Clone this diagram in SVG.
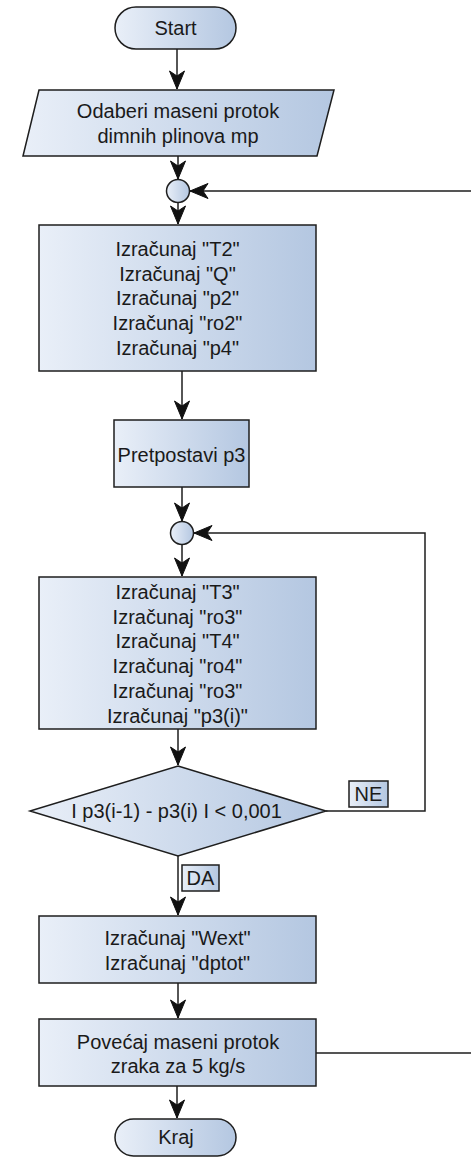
<svg xmlns="http://www.w3.org/2000/svg" width="471" height="1157" viewBox="0 0 471 1157">
<defs>
<linearGradient id="g" x1="0" y1="0" x2="1" y2="0">
<stop offset="0" stop-color="#e9eff8"/>
<stop offset="1" stop-color="#b4c7e1"/>
</linearGradient>
<marker id="arr" markerUnits="userSpaceOnUse" markerWidth="22" markerHeight="20" viewBox="-20 -10 22 20" refX="0" refY="0" orient="auto">
<path d="M0,0 L-18,-7.5 L-13,0 L-18,7.5 Z" fill="#111" stroke="#111" stroke-width="1" stroke-linejoin="miter"/>
</marker>
</defs>
<style>
.n{fill:url(#g);stroke:#1e1e1e;stroke-width:1.5}
.c{fill:none;stroke:#1e1e1e;stroke-width:1.5;marker-end:url(#arr)}
text{font-family:"Liberation Sans",Arial,sans-serif;font-size:20px;fill:#1a1a1a;text-anchor:middle}
</style>
<g id="connectors">
<path class="c" d="M177,49 V89"/>
<path class="c" d="M178,156 V179"/>
<path class="c" d="M178,203 V224"/>
<path class="c" d="M182,371 V419"/>
<path class="c" d="M182,487 V521"/>
<path class="c" d="M182,545 V576"/>
<path class="c" d="M178,729 V765"/>
<path class="c" d="M178,856 V915"/>
<path class="c" d="M178,983 V1018"/>
<path class="c" d="M177,1086 V1118"/>
<path class="c" d="M326,811 H425 V533 H194"/>
<path class="c" d="M316,1053 H485 V191 H190"/>
</g>
<g id="start">
<rect class="n" x="115" y="7" width="121" height="42" rx="21" ry="21"/>
<text x="175.5" y="35">Start</text>
</g>
<g id="input">
<polygon class="n" points="39,90 334,90 317,156 23,156"/>
<text x="178" y="118">Odaberi maseni protok</text>
<text x="178" y="143">dimnih plinova mp</text>
</g>
<g id="join1">
<circle class="n" cx="178" cy="191" r="11.5"/>
</g>
<g id="calc1">
<rect class="n" x="39" y="225" width="277" height="146"/>
<text x="177.5" y="256">Izračunaj "T2"</text>
<text x="177.5" y="281">Izračunaj "Q"</text>
<text x="177.5" y="305">Izračunaj "p2"</text>
<text x="177.5" y="330">Izračunaj "ro2"</text>
<text x="177.5" y="355">Izračunaj "p4"</text>
</g>
<g id="assume">
<rect class="n" x="114" y="420" width="135" height="67"/>
<text x="181.5" y="462">Pretpostavi p3</text>
</g>
<g id="join2">
<circle class="n" cx="182" cy="533" r="11.5"/>
</g>
<g id="calc2">
<rect class="n" x="39" y="577" width="277" height="152"/>
<text x="177.5" y="599">Izračunaj "T3"</text>
<text x="177.5" y="624">Izračunaj "ro3"</text>
<text x="177.5" y="648">Izračunaj "T4"</text>
<text x="177.5" y="673">Izračunaj "ro4"</text>
<text x="177.5" y="698">Izračunaj "ro3"</text>
<text x="177.5" y="723">Izračunaj "p3(i)"</text>
</g>
<g id="decision">
<polygon class="n" points="178,766 326,811 178,856 30,811"/>
<text x="176.5" y="818">I p3(i-1) - p3(i) I &lt; 0,001</text>
</g>
<g id="label-ne">
<rect class="n" x="349" y="781" width="39" height="26"/>
<text x="368.5" y="801">NE</text>
</g>
<g id="label-da">
<rect class="n" x="182" y="865" width="37" height="26"/>
<text x="200.5" y="885">DA</text>
</g>
<g id="calc3">
<rect class="n" x="39" y="916" width="277" height="67"/>
<text x="177.5" y="945">Izračunaj "Wext"</text>
<text x="177.5" y="970">Izračunaj "dptot"</text>
</g>
<g id="increase">
<rect class="n" x="39" y="1019" width="277" height="67"/>
<text x="178" y="1049">Povećaj maseni protok</text>
<text x="178" y="1073">zraka za 5 kg/s</text>
</g>
<g id="end">
<rect class="n" x="115" y="1119" width="121" height="37" rx="18.5" ry="18.5"/>
<text x="176" y="1144">Kraj</text>
</g>
</svg>
